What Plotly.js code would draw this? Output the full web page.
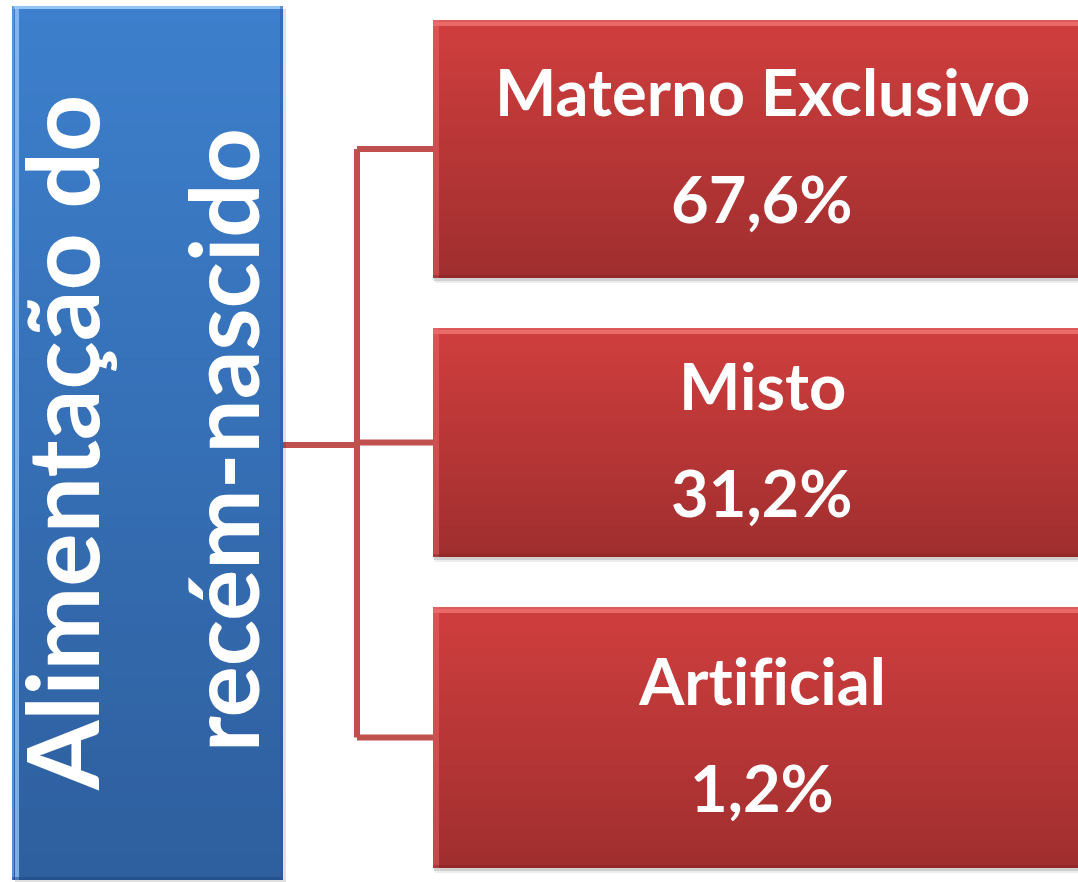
<!DOCTYPE html>
<html>
<head>
<meta charset="utf-8">
<script src="https://cdn.plot.ly/plotly-3.0.1.min.js"></script>
<style>
html,body{margin:0;padding:0;background:#fff;}
#chart{width:1078px;height:882px;}
#chart text{font-variant-ligatures:none;font-feature-settings:"liga" 0,"clig" 0;}
</style>
</head>
<body>
<div id="chart"></div>
<script>
// ---- data ----
const rootLines = ["Alimentação do", "recém-nascido"];
const categories = ["Materno Exclusivo", "Misto", "Artificial"];
const values = [67.6, 31.2, 1.2];
const valueLabels = values.map(v => v.toFixed(1).replace(".", ",") + "%");

// ---- layout geometry (pixel space of a 1078x882 canvas) ----
const W = 1078, H = 882;
const rootBox = {x0: 12, x1: 283, y0: 6, y1: 880};
const leafX0 = 433, leafX1 = 1091;
const leafBoxes = [{y0: 20, y1: 278}, {y0: 328, y1: 557}, {y0: 607, y1: 868}];
const trunkX = 357;
const lineColor = "#c0504d";

function hex(c){return [parseInt(c.slice(1,3),16),parseInt(c.slice(3,5),16),parseInt(c.slice(5,7),16)];}
function mix(a,b,t){const A=hex(a),B=hex(b);return "rgb("+A.map((v,i)=>Math.round(v+(B[i]-v)*t)).join(",")+")";}

const shapes = [];
function gradBox(x0,y0,x1,y1,c0,c1,n){
  const h=(y1-y0)/n;
  for(let i=0;i<n;i++){
    const a=Math.round(y0+i*h), b=Math.min(y1,Math.round(y0+(i+1)*h)+1);
    shapes.push({type:"rect",xref:"x",yref:"y",x0:x0,x1:x1,y0:a,y1:b,
      fillcolor:mix(c0,c1,i/(n-1)),line:{width:0},layer:"below"});
  }
}
function rect(x0,y0,x1,y1,color){
  shapes.push({type:"rect",xref:"x",yref:"y",x0,x1,y0,y1,fillcolor:color,line:{width:0},layer:"below"});
}
function seg(x0,y0,x1,y1){
  shapes.push({type:"line",xref:"x",yref:"y",x0,x1,y0,y1,line:{color:lineColor,width:6},layer:"below"});
}

// connectors
const mid = (rootBox.y0 + rootBox.y1) / 2 + 2;
seg(rootBox.x1, mid, trunkX, mid);
const centers = leafBoxes.map(b => (b.y0 + b.y1) / 2);
seg(trunkX, centers[0], trunkX, centers[centers.length-1]);
centers.forEach(c => seg(trunkX, c, leafX0, c));

// root box
rect(rootBox.x0+3, rootBox.y0+3, rootBox.x1+3, rootBox.y1+3, "rgba(0,0,0,0.12)");
gradBox(rootBox.x0, rootBox.y0, rootBox.x1, rootBox.y1, "#3d7fcc", "#2e5f9e", 60);
rect(rootBox.x0, rootBox.y0, rootBox.x1, rootBox.y0+3, "rgba(170,215,255,0.8)");
rect(rootBox.x0+3, rootBox.y0, rootBox.x0+7, rootBox.y1, "rgba(150,200,250,0.75)");
rect(rootBox.x0, rootBox.y0, rootBox.x0+2, rootBox.y1, "rgba(90,150,220,0.9)");
rect(rootBox.x1-3, rootBox.y0, rootBox.x1, rootBox.y1, "rgba(40,90,160,0.5)");
rect(rootBox.x0, rootBox.y1-3, rootBox.x1, rootBox.y1, "rgba(30,70,130,0.5)");

// leaf boxes
leafBoxes.forEach(b => {
  rect(leafX0+1, b.y1, leafX1, b.y1+3, "rgba(0,0,0,0.18)");
  rect(leafX0+2, b.y1+3, leafX1, b.y1+5, "rgba(0,0,0,0.07)");
  gradBox(leafX0, b.y0, leafX1, b.y1, "#d03e3e", "#a02e2e", 50);
  rect(leafX0, b.y0, leafX1, b.y0+2, "rgba(220,90,90,1)");
  rect(leafX0, b.y0+2, leafX1, b.y0+6, "rgba(255,140,140,0.55)");
  rect(leafX0, b.y0, leafX0+6, b.y1, "rgba(230,110,110,0.45)");
  rect(leafX0, b.y1-3, leafX1, b.y1, "rgba(120,30,30,0.35)");
});

// annotations
const annotations = [];
const font = (s) => ({family:"Lato, 'Open Sans', sans-serif", size:s, color:"#ffffff", weight:"bold"});
const leafCx = (leafX0 + leafX1) / 2;
leafBoxes.forEach((b,i) => {
  const c = (b.y0 + b.y1) / 2;
  annotations.push({xref:"x",yref:"y",x:leafCx,y:c-58,text:categories[i],showarrow:false,xanchor:"center",yanchor:"middle",font:font(65)});
  annotations.push({xref:"x",yref:"y",x:leafCx,y:c+49,text:valueLabels[i],showarrow:false,xanchor:"center",yanchor:"middle",font:font(65)});
});
const rootCy = (rootBox.y0 + rootBox.y1) / 2;
const rootLineX = [60, 221];
const rootSizes = [100, 96];
rootLines.forEach((t,i) => {
  annotations.push({xref:"x",yref:"y",x:rootLineX[i],y:rootCy - (i===1?3:0),text:t,showarrow:false,textangle:-90,
    xanchor:"center",yanchor:"middle",font:font(rootSizes[i])});
});

const layout = {
  width:W, height:H, margin:{l:0,r:0,t:0,b:0,pad:0},
  paper_bgcolor:"#ffffff", plot_bgcolor:"#ffffff",
  xaxis:{range:[0,W],visible:false,fixedrange:true},
  yaxis:{range:[H,0],visible:false,fixedrange:true},
  shapes, annotations, showlegend:false
};
Plotly.newPlot("chart", [{x:[0],y:[0],mode:"markers",marker:{opacity:0},hoverinfo:"skip"}], layout, {displayModeBar:false,staticPlot:true});
</script>
</body>
</html>
